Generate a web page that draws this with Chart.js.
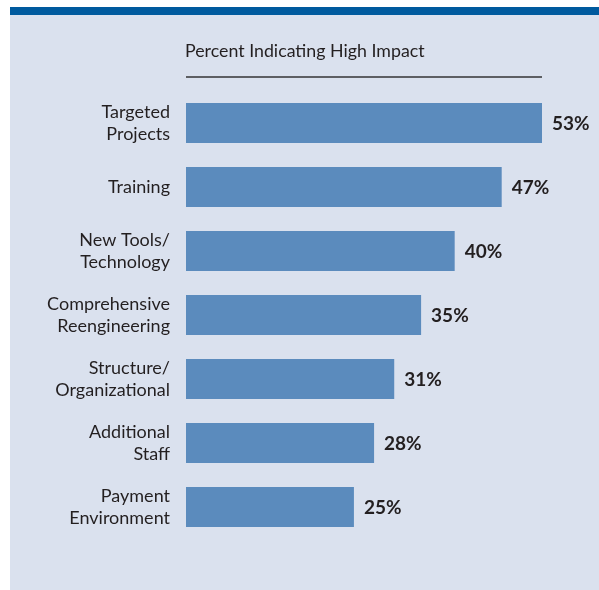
<!DOCTYPE html>
<html>
<head>
<meta charset="utf-8">
<script src="https://cdn.jsdelivr.net/npm/chart.js@4.4.1/dist/chart.umd.min.js"></script>
<style>
  html, body { margin: 0; padding: 0; background: #fff; }
  #panel { position: absolute; left: 10px; top: 7px; width: 589px; height: 583px; background: #dae1ee; }
  #band { position: absolute; left: 10px; top: 7px; width: 589px; height: 8px; background: #005a9e; }
  #wrap { position: absolute; left: 0; top: 0; width: 599px; height: 590px; }
</style>
</head>
<body>
<div id="panel"></div>
<div id="band"></div>
<div id="wrap"><canvas id="chart" width="599" height="590"></canvas></div>
<script>
// chart data
const categories = [
  ['Targeted', 'Projects'],
  ['Training'],
  ['New Tools/', 'Technology'],
  ['Comprehensive', 'Reengineering'],
  ['Structure/', 'Organizational'],
  ['Additional', 'Staff'],
  ['Payment', 'Environment']
];
const percentHigh = [53, 47, 40, 35, 31, 28, 25];
const chartTitle = 'Percent Indicating High Impact';

const fontFamily = 'Lato, "Noto Sans", sans-serif';

// title + rule above the bars
const titlePlugin = {
  id: 'titleRule',
  afterDraw(chart) {
    const ctx = chart.ctx;
    const area = chart.chartArea;
    ctx.save();
    ctx.fillStyle = '#231f20';
    ctx.font = '17.8px ' + fontFamily;
    ctx.textBaseline = 'alphabetic';
    ctx.textAlign = 'left';
    ctx.fillText(chartTitle, area.left - 1, 57);
    ctx.strokeStyle = '#333335';
    ctx.lineWidth = 1.3;
    ctx.beginPath();
    ctx.moveTo(area.left, 77);
    ctx.lineTo(area.right, 77);
    ctx.stroke();
    ctx.restore();
  }
};

// value labels at bar ends
const valuePlugin = {
  id: 'valueLabels',
  afterDatasetsDraw(chart) {
    const ctx = chart.ctx;
    const meta = chart.getDatasetMeta(0);
    ctx.save();
    ctx.fillStyle = '#231f20';
    ctx.font = 'bold 19px ' + fontFamily;
    ctx.textAlign = 'left';
    ctx.textBaseline = 'middle';
    meta.data.forEach((bar, i) => {
      ctx.fillText(percentHigh[i] + '%', bar.x + 10, bar.y + 1);
    });
    ctx.restore();
  }
};

new Chart(document.getElementById('chart'), {
  type: 'bar',
  data: {
    labels: categories,
    datasets: [{
      data: percentHigh,
      backgroundColor: '#5b8bbd',
      borderWidth: 0,
      barPercentage: 0.625,
      categoryPercentage: 1
    }]
  },
  options: {
    indexAxis: 'y',
    responsive: false,
    animation: false,
    layout: { padding: { left: 0, right: 57, top: 91, bottom: 51 } },
    plugins: {
      legend: { display: false },
      tooltip: { enabled: false }
    },
    scales: {
      x: {
        display: false,
        min: 0,
        max: 53
      },
      y: {
        afterFit(scale) { scale.width = 186; },
        grid: { display: false },
        border: { display: false },
        ticks: {
          color: '#231f20',
          padding: 8,
          font: { family: fontFamily, size: 18, lineHeight: 1.25 }
        }
      }
    }
  },
  plugins: [titlePlugin, valuePlugin]
});
</script>
</body>
</html>
